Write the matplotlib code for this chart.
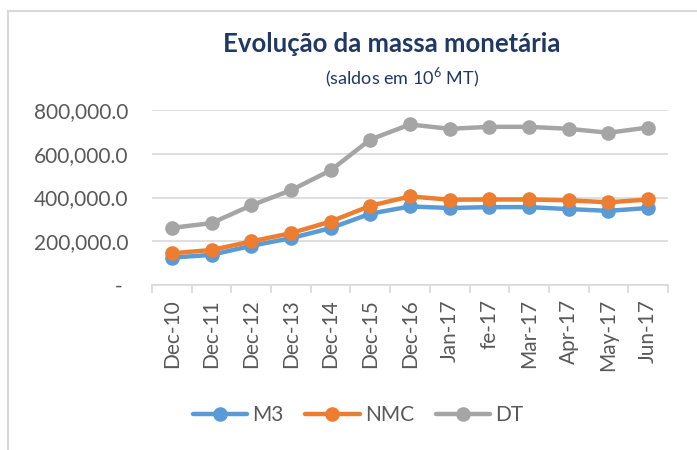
import numpy as np
import matplotlib
matplotlib.use('Agg')
import matplotlib.pyplot as plt
from matplotlib.ticker import FuncFormatter, FixedLocator

plt.rcParams['font.family'] = ['Lato', 'DejaVu Sans']
plt.rcParams['mathtext.fontset'] = 'custom'
plt.rcParams['mathtext.rm'] = 'Lato'

periodos = ['Dec-10', 'Dec-11', 'Dec-12', 'Dec-13', 'Dec-14', 'Dec-15', 'Dec-16',
            'Jan-17', 'fe-17', 'Mar-17', 'Apr-17', 'May-17', 'Jun-17']
m3 = [125000, 138000, 179000, 214000, 260000, 326000, 359000,
      352000, 356000, 356000, 347000, 339000, 352000]
nmc = [145000, 160000, 199000, 237000, 290000, 362000, 405000,
       390000, 391000, 391000, 387000, 378000, 391000]
dt = [261000, 283000, 364000, 433000, 524000, 665000, 734000,
      714000, 723000, 723000, 714000, 696000, 720000]

series = [('M3', m3, '#5B9BD5'), ('NMC', nmc, '#ED7D31'), ('DT', dt, '#A5A5A5')]

fig = plt.figure(figsize=(6.97, 4.5), dpi=100)
ax = fig.add_axes([152 / 697, 1 - 285 / 450, 516 / 697, 175 / 450])

x = np.arange(len(periodos))
for nome, vals, cor in series:
    ax.plot(x, vals, color=cor, lw=3.2, marker='o', ms=9.5, label=nome,
            solid_capstyle='round')

ax.set_xlim(-0.5, len(periodos) - 0.5)
ax.set_ylim(0, 800000)
ax.set_yticks([0, 200000, 400000, 600000, 800000])
ax.yaxis.set_major_formatter(FuncFormatter(lambda v, p: '- ' if v == 0 else f'{v:,.1f}'))
ax.grid(axis='y', color='#D9D9D9', lw=1.2)
ax.set_axisbelow(True)

ax.set_xticks(x)
ax.set_xticklabels(periodos, rotation=90, va='top')
ax.xaxis.set_minor_locator(FixedLocator(np.arange(-0.5, len(periodos), 1)))
ax.tick_params(axis='x', which='major', length=0, pad=10, labelsize=15, labelcolor='#595959')
ax.tick_params(axis='x', which='minor', length=6, color='#D9D9D9', width=1.2)
ax.tick_params(axis='y', length=0, pad=17, labelsize=15, labelcolor='#595959')

for s in ['top', 'right', 'left']:
    ax.spines[s].set_visible(False)
ax.spines['bottom'].set_color('#D9D9D9')
ax.spines['bottom'].set_linewidth(1.2)

fig.text(392 / 697, 1 - 44 / 450, 'Evolução da massa monetária', ha='center', va='center',
         fontsize=18.5, fontweight='bold', color='#1F3864')
fig.text(402 / 697, 1 - 78 / 450, '(saldos em 10$^{6}$ MT)', ha='center', va='center',
         fontsize=13, color='#1F3864')

fig.legend(loc='center', bbox_to_anchor=(358 / 697, 1 - 415 / 450), ncol=3, frameon=False,
           fontsize=15, labelcolor='#595959', handlelength=2.6, handletextpad=0.25,
           columnspacing=1.05)

# moldura cinzenta (so topo e esquerda visiveis)
fig.add_artist(plt.Line2D([8 / 697, 8 / 697], [0, 1 - 11 / 450], color='#D9D9D9', lw=1.5,
                          transform=fig.transFigure))
fig.add_artist(plt.Line2D([8 / 697, 1], [1 - 11 / 450, 1 - 11 / 450], color='#D9D9D9', lw=1.5,
                          transform=fig.transFigure))

fig.savefig('out.png', dpi=100)
